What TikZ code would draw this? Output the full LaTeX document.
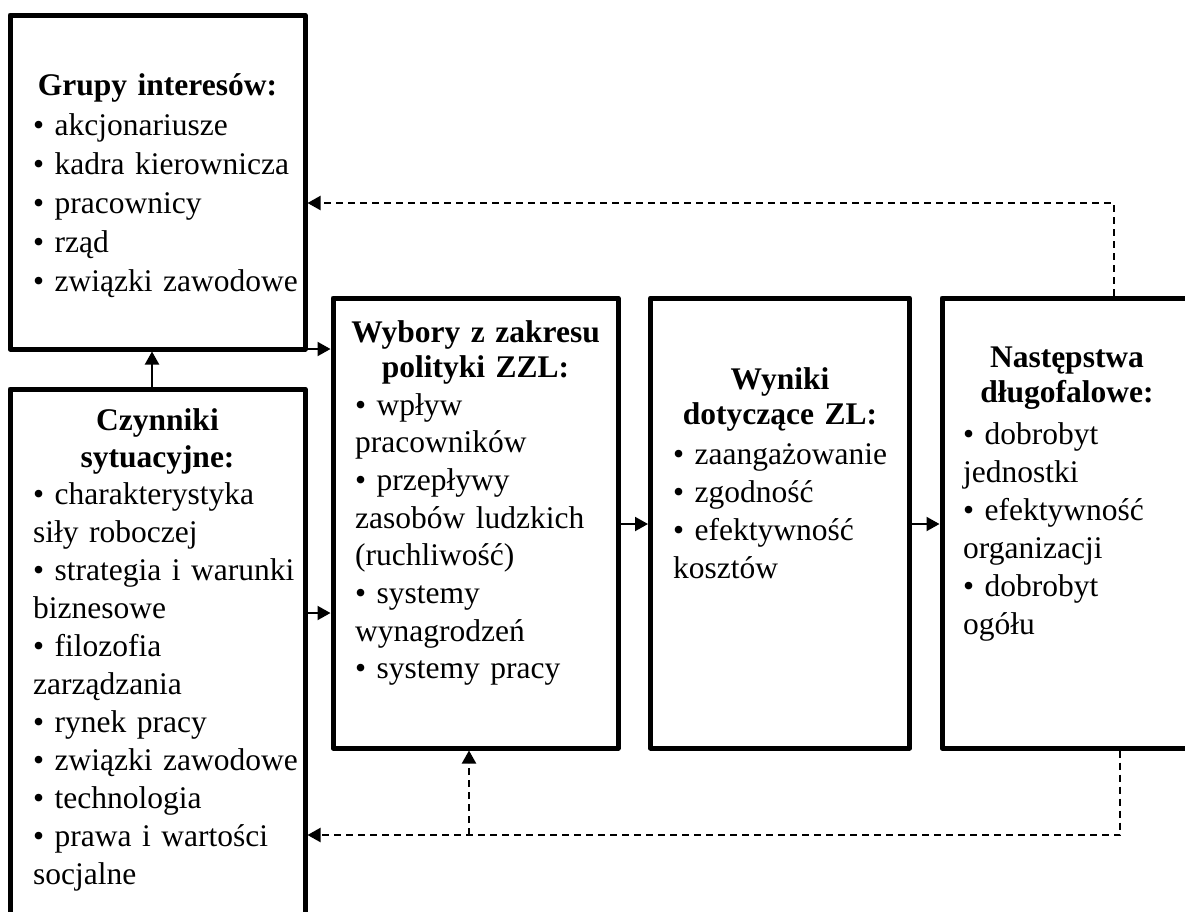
\documentclass[tikz,border=0pt]{standalone}
\usepackage{fontspec}
\setmainfont{Liberation Serif}[WordSpace=0.75]
\usetikzlibrary{arrows.meta}

\begin{document}
\begin{tikzpicture}[x=1pt, y=-1pt,
  box/.style={draw, line width=5pt, line join=round, outer sep=0pt, inner sep=0pt},
  heading/.style={font=\fontsize{31.5}{35}\selectfont\bfseries, text width=300pt,
    execute at begin node=\centering, inner sep=0pt, anchor=base},
  items/.style={font=\fontsize{31.5}{38}\selectfont, text width=330pt,
    execute at begin node=\raggedright, inner sep=0pt, anchor=base west},
  link/.style={line width=2pt, -{Triangle[length=13pt,width=14pt]},
    shorten >=2.5pt, shorten <=2.5pt},
  feedback/.style={link, dash pattern=on 7pt off 5pt}
]
\useasboundingbox (0,0) rectangle (1185,911);
\clip (0,0) rectangle (1185,911);

% boxes
\node[box, minimum width=295pt, minimum height=334pt] (grupy)  at (157.5,182) {};
\node[box, minimum width=295pt, minimum height=571pt] (czyn)   at (157.5,674.5) {};
\node[box, minimum width=285pt, minimum height=450pt] (wybory) at (475.5,523) {};
\node[box, minimum width=259pt, minimum height=450pt] (wyniki) at (780,523) {};
\node[box, minimum width=250pt, minimum height=450pt] (nast)   at (1067,523) {};

% texts
\node[heading] (grupyHead) at (157.5,95) {Grupy interesów:};
\node[items, font=\fontsize{31.5}{39}\selectfont] (grupyList) at (33,135) {%
• akcjonariusze\\
• kadra kierownicza\\
• pracownicy\\
• rząd\\
• związki zawodowe};

\node[heading, font=\fontsize{31.5}{37}\selectfont\bfseries] (czynHead) at (157.5,430) {Czynniki\\sytuacyjne:};
\node[items] (czynList) at (33,504) {%
• charakterystyka\\
siły roboczej\\
• strategia i warunki\\
biznesowe\\
• filozofia\\
zarządzania\\
• rynek pracy\\
• związki zawodowe\\
• technologia\\
• prawa i wartości\\
socjalne};

\node[heading] (wyboryHead) at (475.5,342) {Wybory z zakresu\\polityki ZZL:};
\node[items, font=\fontsize{31.5}{37.7}\selectfont] (wyboryList) at (355,415) {%
• wpływ\\
pracowników\\
• przepływy\\
zasobów ludzkich\\
(ruchliwość)\\
• systemy\\
wynagrodzeń\\
• systemy pracy};

\node[heading] (wynikiHead) at (780,389) {Wyniki\\dotyczące ZL:};
\node[items] (wynikiList) at (673,464) {%
• zaangażowanie\\
• zgodność\\
• efektywność\\
kosztów};

\node[heading] (nastHead) at (1067,367) {Następstwa\\długofalowe:};
\node[items] (nastList) at (963,444) {%
• dobrobyt\\
jednostki\\
• efektywność\\
organizacji\\
• dobrobyt\\
ogółu};

% connector guide points
\coordinate (upX)   at (152,370);
\coordinate (midY)  at (320,613);
\coordinate (rowY)  at (630,524);
\coordinate (fbTop) at (1114,203);
\coordinate (fbBot) at (1120,835);
\coordinate (fbJoin) at (469,835);

% solid connectors
\draw[link] (czyn.north -| upX) -- (grupy.south -| upX);
\draw[link] (grupy.south east) -- (grupy.south east -| wybory.west);
\draw[link] (czyn.east |- midY) -- (wybory.west |- midY);
\draw[link] (wybory.east |- rowY) -- (wyniki.west |- rowY);
\draw[link] (wyniki.east |- rowY) -- (nast.west |- rowY);

% dashed feedback loops
\draw[feedback] (nast.north -| fbTop) -- (fbTop) -- (grupy.east |- fbTop);
\draw[feedback] (nast.south -| fbBot) -- (fbBot) -- (czyn.east |- fbBot);
\draw[feedback, shorten <=0pt] (fbJoin) -- (wybory.south -| fbJoin);
\end{tikzpicture}
\end{document}
